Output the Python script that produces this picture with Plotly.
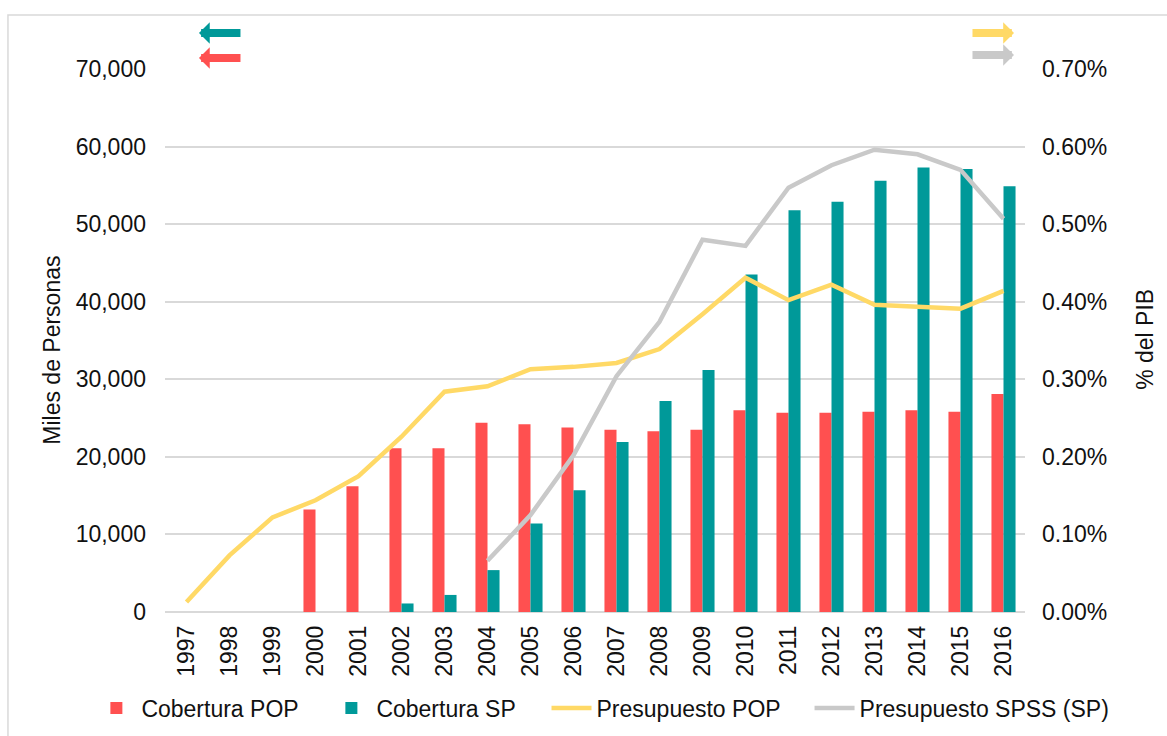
import plotly.graph_objects as go

years = [str(y) for y in range(1997, 2017)]

cobertura_pop = [None, None, None, 13200, 16200, 21100, 21100, 24400, 24200, 23800,
                 23500, 23300, 23500, 26000, 25700, 25700, 25800, 26000, 25800, 28100]
cobertura_sp = [None, None, None, None, None, 1100, 2200, 5400, 11400, 15700,
                21900, 27200, 31200, 43500, 51800, 52900, 55600, 57300, 57100, 54900]
presupuesto_pop = [0.013, 0.073, 0.122, 0.144, 0.175, 0.226, 0.284, 0.291, 0.313, 0.316,
                   0.321, 0.339, 0.384, 0.431, 0.402, 0.422, 0.396, 0.393, 0.391, 0.414]
presupuesto_sp = [None, None, None, None, None, None, None, 0.066, 0.125, 0.202,
                  0.304, 0.374, 0.480, 0.472, 0.547, 0.576, 0.596, 0.590, 0.570, 0.507]

left_ticks = [0, 10000, 20000, 30000, 40000, 50000, 60000, 70000]
right_ticks = [0.0, 0.1, 0.2, 0.3, 0.4, 0.5, 0.6, 0.7]
right_labels = ['0.00%', '0.10%', '0.20%', '0.30%', '0.40%', '0.50%', '0.60%', '0.70%']

colors = {
    'pop_bar': '#FF5050',
    'sp_bar': '#009999',
    'pop_line': '#FFD966',
    'sp_line': '#C9C9C9',
    'grid': '#D9D9D9',
}
font = 'Liberation Sans, Arial, sans-serif'
fsize = 23

fig = go.Figure()

fig.add_trace(go.Bar(x=years, y=cobertura_pop, name='Cobertura POP', legend='legend',
                     marker=dict(color=colors['pop_bar'], line=dict(width=0))))
fig.add_trace(go.Bar(x=years, y=cobertura_sp, name='Cobertura SP', legend='legend',
                     marker=dict(color=colors['sp_bar'], line=dict(width=0))))
fig.add_trace(go.Scatter(x=years, y=presupuesto_pop, name='Presupuesto POP', yaxis='y2',
                         legend='legend2', mode='lines',
                         line=dict(color=colors['pop_line'], width=4.5)))
fig.add_trace(go.Scatter(x=years, y=presupuesto_sp, name='Presupuesto SPSS (SP)', yaxis='y2',
                         legend='legend3', mode='lines',
                         line=dict(color=colors['sp_line'], width=4.5)))

# axis titles as annotations so they sit where the original puts them
annotations = [
    dict(text='Miles de Personas', xref='paper', yref='paper', x=-0.1314, y=0.483,
         textangle=-90, showarrow=False, xanchor='center', yanchor='middle',
         font=dict(family=font, size=fsize, color='#111111')),
    dict(text='% del PIB', xref='paper', yref='paper', x=1.1395, y=0.503,
         textangle=-90, showarrow=False, xanchor='center', yanchor='middle',
         font=dict(family=font, size=fsize, color='#111111')),
]

# little direction arrows at the top (which axis each series uses)
arrows = [
    (0.0395, 1.0663, 43, colors['sp_bar']),
    (0.0395, 1.0203, 43, colors['pop_bar']),
    (0.9872, 1.0663, -43, colors['pop_line']),
    (0.9872, 1.0258, -43, colors['sp_line']),
]
for x, y, ax, c in arrows:
    annotations.append(dict(text='', xref='paper', yref='paper', x=x, y=y, ax=ax, ay=0,
                            showarrow=True, arrowhead=1, arrowsize=0.45, arrowwidth=8,
                            arrowcolor=c))

legend_common = dict(orientation='h', xref='container', yref='container',
                     xanchor='left', y=0.038, yanchor='middle',
                     font=dict(size=fsize), traceorder='normal',
                     bgcolor='rgba(0,0,0,0)', itemwidth=40)

fig.update_layout(
    width=1167, height=736,
    margin=dict(l=165, r=142, t=69, b=124, autoexpand=False),
    paper_bgcolor='white', plot_bgcolor='white',
    barmode='group', bargap=0.44, bargroupgap=0,
    font=dict(family=font, size=fsize, color='#111111'),
    showlegend=True,
    legend=dict(legend_common, x=0.0783, entrywidth=180),
    legend2=dict(legend_common, x=0.4683),
    legend3=dict(legend_common, x=0.6937),
    xaxis=dict(type='category', showgrid=False, showline=False, ticks='',
               tickangle=-90, tickfont=dict(size=fsize), ticklabelstandoff=8),
    yaxis=dict(range=[0, 70000], tickvals=left_ticks, tickformat=',d',
               showgrid=True, gridcolor=colors['grid'], gridwidth=1.5,
               zeroline=True, zerolinecolor=colors['grid'], zerolinewidth=1.5,
               showline=False, ticks='', ticklabelstandoff=18),
    yaxis2=dict(range=[0, 0.7], tickvals=right_ticks, ticktext=right_labels,
                overlaying='y', side='right', showgrid=False, zeroline=False,
                showline=False, ticks='', ticklabelstandoff=16),
    annotations=annotations,
    shapes=[dict(type='rect', xref='paper', yref='paper', x0=-0.1826, x1=1.175,
                 y0=-0.245, y1=1.0994, line=dict(color=colors['grid'], width=1.5),
                 layer='below')],
    hovermode='x unified',
)

fig.write_html("out.html", config={'displayModeBar': False},
               post_script="document.body.style.margin='0px';")
